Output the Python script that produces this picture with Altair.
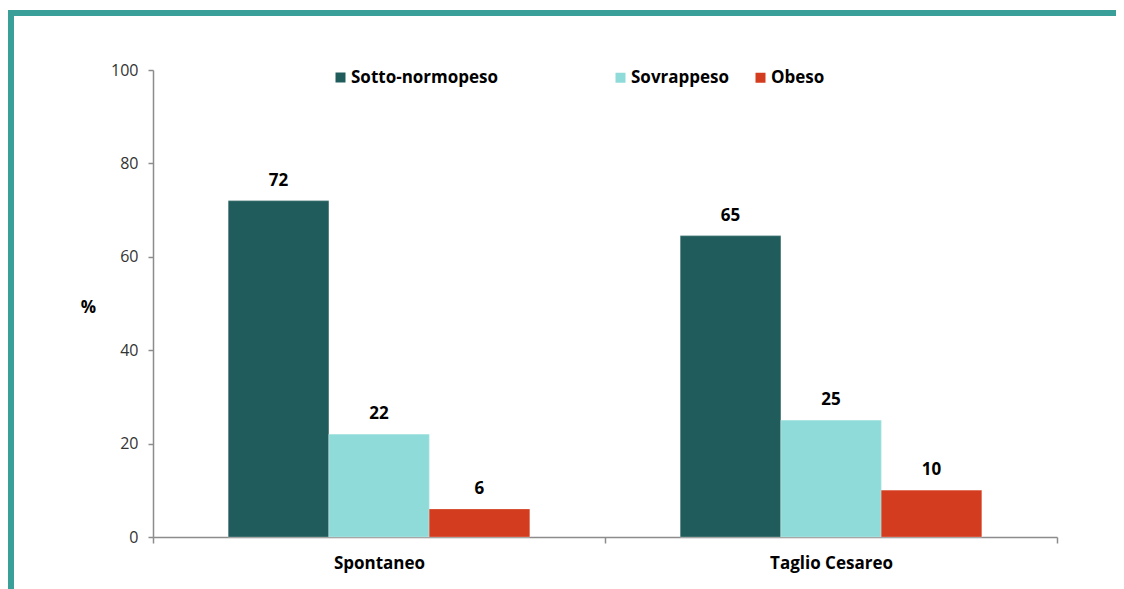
import altair as alt
import pandas as pd

categories = ["Spontaneo", "Spontaneo", "Spontaneo", "Taglio Cesareo", "Taglio Cesareo", "Taglio Cesareo"]
groups = ["Sotto-normopeso", "Sovrappeso", "Obeso", "Sotto-normopeso", "Sovrappeso", "Obeso"]
values = [72, 22, 6, 64.5, 25, 10]
labels = ["72", "22", "6", "65", "25", "10"]

group_order = ["Sotto-normopeso", "Sovrappeso", "Obeso"]
group_colors = ["#1f5c5b", "#8fdbd9", "#d33c1e"]

df = pd.DataFrame({"cat": categories, "grp": groups, "val": values, "lab": labels})

FONT = "Open Sans"
W, H = 904, 467

base = alt.Chart(df).encode(
    x=alt.X("cat:N", sort=["Spontaneo", "Taglio Cesareo"],
            scale=alt.Scale(paddingInner=0, paddingOuter=0),
            axis=alt.Axis(title=None, labelAngle=0, labelFontWeight="bold",
                          labelFontSize=17, labelColor="#000000", labelFont=FONT,
                          labelPadding=12, tickBand="extent", tickSize=6,
                          tickColor="#8c8c8c", domainColor="#8c8c8c",
                          domainWidth=1.5, tickWidth=1.5)),
    xOffset=alt.XOffset("grp:N", sort=group_order,
                        scale=alt.Scale(paddingInner=0, paddingOuter=0.75)),
    y=alt.Y("val:Q", scale=alt.Scale(domain=[0, 100]),
            axis=alt.Axis(values=[0, 20, 40, 60, 80, 100], title="%", titleAngle=0,
                          titleFontWeight="bold", titleFontSize=17, titleFont=FONT,
                          titleX=-65, titleY=246, titleColor="#000000",
                          labelFontSize=16, labelFont=FONT, labelColor="#333333",
                          labelPadding=10, tickSize=5, grid=False,
                          tickColor="#8c8c8c", domainColor="#8c8c8c",
                          domainWidth=1.5, tickWidth=1.5)),
)

legend_common = dict(title=None, orient="none", direction="horizontal", symbolType="square",
                     symbolSize=100, symbolStrokeWidth=0, labelFontSize=17,
                     labelFontWeight="bold", labelFont=FONT, labelColor="#000000",
                     labelOffset=2, labelLimit=400)

bars1 = base.mark_bar(stroke="#ffffff", strokeOpacity=0.25, strokeWidth=1).encode(
    color=alt.Color("grp:N", sort=group_order,
                    scale=alt.Scale(domain=group_order, range=group_colors),
                    legend=alt.Legend(values=["Sotto-normopeso"], legendX=179, legendY=-1,
                                      **legend_common)),
)

# same colours, domain listed in another order so it gets a legend of its own
order2 = [group_order[1], group_order[2], group_order[0]]
colors2 = [group_colors[1], group_colors[2], group_colors[0]]
bars2 = base.mark_bar(stroke="#ffffff", strokeOpacity=0.25, strokeWidth=1).encode(
    fill=alt.Fill("grp:N", sort=order2,
                  scale=alt.Scale(domain=order2, range=colors2),
                  legend=alt.Legend(values=["Sovrappeso", "Obeso"], legendX=459, legendY=-1,
                                    columnPadding=22, **legend_common)),
)

text = base.mark_text(dy=-20, fontSize=17, fontWeight="bold", font=FONT, color="#000000").encode(
    text="lab:N",
)

frame = alt.Chart(df).mark_rect(fill=None, stroke="#3a9e99", strokeWidth=6).encode(
    x=alt.value(-142), x2=alt.value(1300), y=alt.value(-57), y2=alt.value(800)
)

chart = alt.layer(frame, bars1, bars2, text).properties(
    width=W, height=H,
    autosize=alt.AutoSizeParams(type="none"),
    padding={"left": 145, "top": 62, "right": 59, "bottom": 52},
    background="#ffffff",
).configure_view(strokeWidth=0)

chart.save("out.html", embed_options={"renderer": "svg", "actions": False})
